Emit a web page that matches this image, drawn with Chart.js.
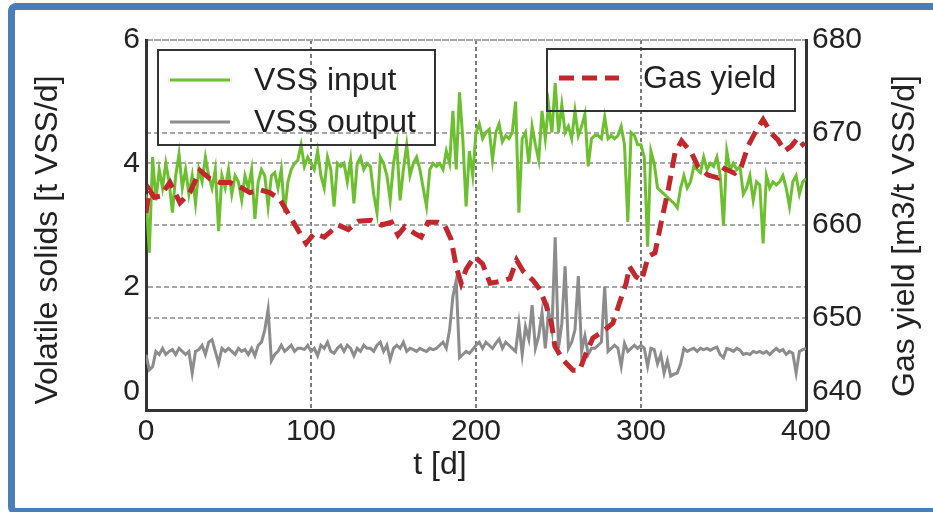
<!DOCTYPE html>
<html>
<head>
<meta charset="utf-8">
<title>VSS and gas yield</title>
<script src="https://cdn.jsdelivr.net/npm/chart.js@4.4.0/dist/chart.umd.min.js"></script>
<style>
  html, body { margin: 0; padding: 0; background: #fff; }
  #wrap { position: relative; width: 933px; height: 512px; overflow: hidden; }
  #chart { position: absolute; left: 0; top: 0; }
  #frame {
    position: absolute; left: 8px; top: 3px; width: 940px; height: 512px;
    box-sizing: border-box; border: 7px solid #4a7ebb; border-radius: 8px;
    pointer-events: none;
  }
</style>
</head>
<body>
<div id="wrap">
  <canvas id="chart" width="933" height="512"></canvas>
  <div id="frame"></div>
</div>
<script>
// Tage (alle 2 Tage gemessen) fuer VSS input / output
const sampleDays = [
  0, 2, 4, 6, 8, 10, 12, 14, 16, 18, 20, 22, 24, 26, 28, 30, 32, 34, 36, 38,
  40, 42, 44, 46, 48, 50, 52, 54, 56, 58, 60, 62, 64, 66, 68, 70, 72, 74, 76, 78,
  80, 82, 84, 86, 88, 90, 92, 94, 96, 98, 100, 102, 104, 106, 108, 110, 112, 114, 116, 118,
  120, 122, 124, 126, 128, 130, 132, 134, 136, 138, 140, 142, 144, 146, 148, 150, 152, 154, 156, 158,
  160, 162, 164, 166, 168, 170, 172, 174, 176, 178, 180, 182, 184, 186, 188, 190, 192, 194, 196, 198,
  200, 202, 204, 206, 208, 210, 212, 214, 216, 218, 220, 222, 224, 226, 228, 230, 232, 234, 236, 238,
  240, 242, 244, 246, 248, 250, 252, 254, 256, 258, 260, 262, 264, 266, 268, 270, 272, 274, 276, 278,
  280, 282, 284, 286, 288, 290, 292, 294, 296, 298, 300, 302, 304, 306, 308, 310, 312, 314, 316, 318,
  320, 322, 324, 326, 328, 330, 332, 334, 336, 338, 340, 342, 344, 346, 348, 350, 352, 354, 356, 358,
  360, 362, 364, 366, 368, 370, 372, 374, 376, 378, 380, 382, 384, 386, 388, 390, 392, 394, 396, 398,
  400
];

const vssInput = [
  3.5, 2.55, 4.1, 3.4, 3.9, 3.6, 4.0, 3.7, 3.2, 3.8, 4.15, 3.6, 3.9, 3.5, 3.8, 3.35, 3.9, 3.7, 4.1, 3.8,
  3.6, 3.9, 2.9, 3.8, 3.6, 3.9, 3.5, 3.8, 3.7, 3.4, 3.8, 3.6, 3.9, 3.1, 3.7, 3.9, 3.8, 3.3, 3.8, 3.85,
  3.6, 3.9, 3.2, 3.7, 3.9, 4.0, 4.05, 4.3, 3.95, 4.1, 4.0, 3.9, 4.2, 3.8, 3.6, 4.1, 3.9, 3.3, 4.0, 3.95,
  4.0, 3.7, 4.05, 3.35, 4.0, 4.1, 3.9, 4.0, 3.95, 3.5, 3.2, 4.1, 4.0, 3.8, 3.4, 4.0, 4.3, 3.4, 3.9, 4.3,
  3.8, 4.0, 4.1, 3.9, 3.6, 3.3, 3.9, 4.0, 3.95, 4.0, 3.9, 4.2, 4.0, 4.85, 3.9, 5.15, 4.4, 3.3, 4.2, 3.8,
  4.5, 4.64, 4.4, 4.5, 4.55, 4.05, 4.5, 4.64, 4.35, 4.45, 4.4, 4.5, 5.0, 3.2, 4.4, 4.5, 4.0, 4.6, 4.3, 4.05,
  4.85, 4.4, 4.95, 4.5, 5.3, 4.5, 4.95, 4.5, 4.6, 4.4, 4.85, 4.45, 4.6, 4.8, 3.95, 4.4, 4.45, 4.45, 4.4, 4.75,
  4.4, 4.45, 4.4, 4.45, 4.6, 4.3, 3.05, 4.5, 4.45, 4.3, 4.3, 4.1, 2.65, 4.2, 4.0, 3.6, 3.55, 3.5, 3.45, 3.4,
  3.35, 3.28, 3.6, 3.8, 3.6, 3.7, 3.95, 3.9, 3.85, 4.1, 3.9, 4.0, 3.95, 4.1, 3.8, 2.99, 4.2, 3.9, 4.0, 3.9,
  3.95, 3.5, 3.6, 3.8, 3.4, 3.7, 3.65, 2.7, 3.8, 3.6, 3.7, 3.65, 3.7, 3.8, 3.6, 3.3, 3.7, 3.8, 3.5, 3.7,
  3.75
];

const vssOutput = [
  0.9, 0.65, 0.7, 0.95, 0.9, 1.0, 0.9, 0.95, 0.98, 0.9, 1.0, 0.95, 0.9, 0.95, 0.6, 0.95, 0.98, 1.05, 0.9, 1.1,
  1.14, 0.95, 0.76, 1.0, 0.95, 1.0, 0.95, 0.9, 1.0, 0.95, 0.98, 0.9, 1.0, 0.88, 1.05, 1.1, 1.3, 1.63, 0.8, 0.9,
  0.95, 1.05, 0.95, 1.0, 1.05, 0.95, 1.0, 1.0, 0.98, 1.05, 0.95, 1.0, 0.88, 1.05, 1.0, 1.1, 0.95, 0.92, 1.0, 1.05,
  0.95, 1.05, 1.0, 0.88, 1.0, 0.95, 1.05, 1.0, 1.0, 0.95, 1.05, 1.1, 0.95, 1.05, 0.82, 1.0, 1.05, 1.0, 1.1, 0.95,
  1.0, 0.98, 0.95, 1.0, 0.97, 0.95, 1.0, 0.98, 1.0, 1.05, 1.1, 1.0, 1.3, 1.84, 2.1, 0.85, 0.9, 0.95, 0.92, 0.98,
  1.05, 1.1, 1.0, 1.1, 1.05, 1.0, 1.08, 1.15, 1.0, 1.1, 1.05, 1.0, 0.95, 1.4, 0.9, 1.35, 1.15, 1.7, 1.0, 1.2,
  1.58, 1.0, 1.6, 1.3, 2.8, 1.0, 1.4, 2.33, 1.0, 1.1, 1.3, 2.17, 0.95, 1.2, 0.9, 1.0, 1.0, 1.05, 1.1, 2.0,
  0.95, 1.0, 1.05, 1.0, 0.71, 1.08, 0.95, 1.0, 1.05, 1.0, 1.05, 1.0, 0.71, 1.0, 0.98, 0.75, 0.9, 0.6, 0.8, 0.55,
  0.58, 0.6, 0.75, 1.0, 0.95, 0.98, 1.0, 0.95, 1.0, 0.98, 1.0, 0.97, 1.0, 1.02, 0.9, 0.85, 1.0, 0.98, 0.95, 1.0,
  0.97, 0.9, 0.92, 0.9, 0.95, 0.93, 0.95, 0.92, 0.95, 0.9, 0.95, 1.0, 0.95, 0.98, 0.9, 0.95, 0.92, 0.6, 0.95, 0.98,
  1.0
];

// Gasausbeute (glatter Verlauf, eigene Stuetzstellen)
const gasDays = [
  0, 2, 5, 8.5, 14.5, 20.6, 26.6, 32.7, 38.8, 44.8, 50.9, 57, 63, 69, 75, 81, 87, 93, 97, 102,
  108, 116.5, 122.6, 128.6, 136.6, 142.7, 148.7, 152.7, 156.8, 162.8, 166.8, 170.9, 177, 181, 185, 188, 191, 194, 199, 204,
  208.5, 214.5, 220.6, 224.6, 228.6, 234.6, 238.8, 242.7, 245.7, 247.8, 252.7, 258.8, 262.8, 266.8, 270.9, 277, 283, 287, 291, 293,
  297, 300.4, 304.4, 308.5, 312.5, 316.5, 320.6, 324.6, 330.6, 334.6, 340.6, 346.7, 350.7, 356.8, 360.8, 364.8, 368.9, 374, 379, 383,
  387, 391, 395, 399
];
const gasYield = [
  661.3, 663.8, 663.0, 663.1, 664.6, 662.4, 663.5, 665.9, 665.0, 664.6, 664.6, 664.1, 663.5, 663.8, 663.5, 662.8, 661.0, 659.2, 658.0, 659.1,
  658.7, 660.0, 659.5, 660.4, 660.5, 660.0, 660.3, 658.9, 659.8, 659.1, 658.7, 660.3, 660.3, 660.0, 658.4, 655.5, 653.7, 655.2, 656.6, 655.8,
  653.7, 653.9, 654.2, 656.2, 655.0, 654.0, 653.0, 651.2, 649.4, 646.9, 645.4, 644.3, 644.3, 646.2, 647.8, 648.5, 649.4, 651.6, 653.7, 655.5,
  654.4, 654.0, 656.6, 657.0, 660.5, 663.8, 667.8, 669.1, 667.8, 666.3, 665.4, 665.1, 666.1, 665.6, 666.3, 668.5, 669.9, 671.4, 669.9, 669.2,
  668.0, 668.5, 669.4, 668.5
];

const xTicks = [0, 100, 200, 300, 400];
const leftTicks = [0, 2, 4, 6];
const rightTicks = [640, 650, 660, 670, 680];

const xTitle = 't [d]';
const leftTitle = 'Volatile solids [t VSS/d]';
const rightTitle = 'Gas yield [m3/t VSS/d]';

function toPoints(days, values) {
  return days.map((d, i) => ({ x: d, y: values[i] }));
}

const FONT = '"Liberation Sans", Arial, Helvetica, sans-serif';
const tickFont = { family: FONT, size: 30 };
const textColor = '#222';

// unterste Beschriftung etwas anheben (wie im Original)
function liftLowest(value, index) {
  return index === 0 ? [String(value), ''] : String(value);
}

// zwei Legendenboxen wie im Original (links: VSS, rechts: Gas)
const boxLegend = {
  id: 'boxLegend',
  afterDatasetsDraw(chart) {
    const ctx = chart.ctx;
    const a = chart.chartArea;
    const boxes = [
      { x: a.left + 12, y: a.top + 10, w: 277, h: 95, rows: [0, 1], dy: [30, 72] },
      { x: a.left + 401, y: a.top + 9, w: 248, h: 62, rows: [2], dy: [29] }
    ];
    ctx.save();
    boxes.forEach(b => {
      ctx.lineWidth = 2;
      ctx.strokeStyle = '#333';
      ctx.setLineDash([]);
      ctx.strokeRect(b.x, b.y, b.w, b.h);
      b.rows.forEach((idx, r) => {
        const ds = chart.data.datasets[idx];
        const y = b.y + b.dy[r];
        ctx.beginPath();
        ctx.lineWidth = ds.borderWidth;
        ctx.strokeStyle = ds.borderColor;
        ctx.setLineDash(ds.borderDash || []);
        ctx.moveTo(b.x + 12, y);
        ctx.lineTo(b.x + 72, y);
        ctx.stroke();
        ctx.setLineDash([]);
        ctx.fillStyle = textColor;
        ctx.font = '32px ' + FONT;
        ctx.textAlign = 'left';
        ctx.textBaseline = 'middle';
        ctx.fillText(ds.label, b.x + 96, y + 1);
      });
    });
    ctx.restore();
  }
};

// Achsentitel
const axisTitles = {
  id: 'axisTitles',
  afterDraw(chart) {
    const ctx = chart.ctx;
    const a = chart.chartArea;
    ctx.save();
    ctx.fillStyle = textColor;
    ctx.font = '32px ' + FONT;
    ctx.textAlign = 'center';
    ctx.textBaseline = 'middle';
    ctx.fillText(xTitle, a.left + 294, a.bottom + 55);
    ctx.translate(48, a.top + 200);
    ctx.rotate(-Math.PI / 2);
    ctx.fillText(leftTitle, 0, 0);
    ctx.restore();
    ctx.save();
    ctx.fillStyle = textColor;
    ctx.font = '32px ' + FONT;
    ctx.textAlign = 'center';
    ctx.textBaseline = 'middle';
    ctx.translate(905, a.top + 196);
    ctx.rotate(-Math.PI / 2);
    ctx.fillText(rightTitle, 0, 0);
    ctx.restore();
  }
};

new Chart(document.getElementById('chart'), {
  type: 'line',
  data: {
    datasets: [{
      label: 'VSS input',
      data: toPoints(sampleDays, vssInput),
      yAxisID: 'y',
      borderColor: '#6cbf2f',
      borderWidth: 3,
      pointRadius: 0,
      order: 2
    }, {
      label: 'VSS output',
      data: toPoints(sampleDays, vssOutput),
      yAxisID: 'y',
      borderColor: '#8c8c8c',
      borderWidth: 3,
      pointRadius: 0,
      order: 1
    }, {
      label: 'Gas yield',
      data: toPoints(gasDays, gasYield),
      yAxisID: 'y2',
      borderColor: '#c1272d',
      borderWidth: 5,
      borderDash: [15, 8],
      pointRadius: 0,
      order: 0
    }]
  },
  options: {
    responsive: false,
    animation: false,
    devicePixelRatio: 1,
    layout: { padding: { top: 40, left: 0, right: 0, bottom: 0 } },
    plugins: {
      legend: { display: false },
      tooltip: { enabled: false }
    },
    scales: {
      x: {
        type: 'linear',
        min: xTicks[0],
        max: xTicks[xTicks.length - 1],
        afterBuildTicks: s => { s.ticks = xTicks.map(v => ({ value: v })); },
        ticks: { font: tickFont, color: textColor, padding: 4, maxRotation: 0 },
        grid: { color: '#7a7a7a', lineWidth: 2, drawTicks: false },
        border: { display: true, color: '#333', width: 3, dash: [4, 3] },
        afterFit: s => { s.height = 102; }
      },
      y: {
        position: 'left',
        min: leftTicks[0],
        max: leftTicks[leftTicks.length - 1],
        afterBuildTicks: s => { s.ticks = leftTicks.map(v => ({ value: v })); },
        ticks: { font: tickFont, color: textColor, padding: 6, callback: liftLowest },
        grid: { color: '#a8a8a8', lineWidth: 2, drawTicks: false },
        border: { display: true, color: '#333', width: 3, dash: [5, 3] },
        afterFit: s => { s.width = 146; }
      },
      y2: {
        position: 'right',
        min: rightTicks[0],
        max: rightTicks[rightTicks.length - 1],
        afterBuildTicks: s => { s.ticks = rightTicks.map(v => ({ value: v })); },
        ticks: { font: tickFont, color: textColor, padding: 6, callback: liftLowest },
        grid: { color: '#a8a8a8', lineWidth: 2, drawTicks: false },
        border: { display: true, color: '#333', width: 3, dash: [5, 3] },
        afterFit: s => { s.width = 127; }
      }
    }
  },
  plugins: [boxLegend, axisTitles]
});
</script>
</body>
</html>
